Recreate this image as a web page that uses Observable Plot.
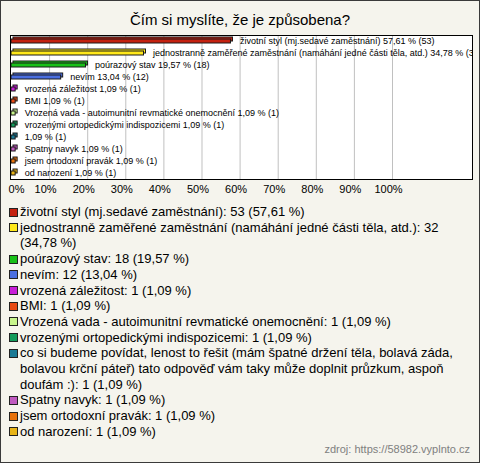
<!DOCTYPE html>
<html>
<head>
<meta charset="utf-8">
<script src="https://cdn.jsdelivr.net/npm/d3@7"></script>
<script src="https://cdn.jsdelivr.net/npm/@observablehq/plot@0.6"></script>
<style>
  html, body { margin: 0; padding: 0; background: #f5f4ed; }
  #wrap { position: relative; width: 480px; height: 463px; background: #f5f4ed; overflow: hidden;
          font-family: "Liberation Sans", Arial, sans-serif; color: #000; }
  #border { position: absolute; left: 0; top: 0; width: 480px; height: 463px; box-sizing: border-box;
            border: 1px solid #3a3a3a; pointer-events: none; }
  #title { position: absolute; left: 0; width: 480px; top: 10px; text-align: center; font-size: 15px; line-height: 20px; }
  #chart { position: absolute; left: 0; top: 0; }
  #legend { position: absolute; left: 9px; top: 204px; width: 462px; font-size: 13px; line-height: 15.7px; }
  .item { position: relative; padding-left: 11px; }
  .sw { position: absolute; left: 0; top: 3.5px; width: 7px; height: 7px; border: 1px solid #222; }
  #source { position: absolute; right: 10px; top: 443px; font-size: 11px; color: #808080; }
</style>
</head>
<body>
<div id="wrap">
  <div id="title">Čím si myslíte, že je způsobena?</div>
  <div id="chart"></div>
  <div id="legend"></div>
  <div id="source">zdroj: https://58982.vyplnto.cz</div>
  <div id="border"></div>
</div>
<script>
const categories = [
  "životní styl (mj.sedavé zaměstnání)",
  "jednostranně zaměřené zaměstnání (namáhání jedné části těla, atd.)",
  "poúrazový stav",
  "nevím",
  "vrozená záležitost",
  "BMI",
  "Vrozená vada - autoimunitní revmatické onemocnění",
  "vrozenými ortopedickými indispozicemi",
  "co si budeme povídat, lenost to řešit (mám špatné držení těla, bolavá záda, bolavou krční páteř) tato odpověď vám taky může doplnit průzkum, aspoň doufám :)",
  "Spatny navyk",
  "jsem ortodoxní pravák",
  "od narození"
];
const barLabels = [
  "životní styl (mj.sedavé zaměstnání)",
  "jednostranně zaměřené zaměstnání (namáhání jedné části těla, atd.)",
  "poúrazový stav",
  "nevím",
  "vrozená záležitost",
  "BMI",
  "Vrozená vada - autoimunitní revmatické onemocnění",
  "vrozenými ortopedickými indispozicemi",
  "",
  "Spatny navyk",
  "jsem ortodoxní pravák",
  "od narození"
];
const counts = [53, 32, 18, 12, 1, 1, 1, 1, 1, 1, 1, 1];
const percents = [57.61, 34.78, 19.57, 13.04, 1.09, 1.09, 1.09, 1.09, 1.09, 1.09, 1.09, 1.09];
const colors = ["#c4210f", "#ffe81a", "#18c018", "#4a6ee0", "#c81ed8", "#e84a14",
                "#c8f58c", "#139b5b", "#1b7a95", "#c05ac0", "#e8720c", "#e8b418"];
const tickValues = [0, 10, 20, 30, 40, 50, 60, 70, 80, 90, 100];

const fmt = v => v.toFixed(2).replace(".", ",");
const rows = categories.map((c, i) => ({
  key: String(i), name: c, label: barLabels[i], count: counts[i], pct: percents[i], color: colors[i]
}));

const chart = Plot.plot({
  width: 480,
  height: 200,
  marginTop: 35,
  marginBottom: 21,
  marginLeft: 10,
  marginRight: 8,
  style: { fontFamily: "'Liberation Sans', Arial, sans-serif", background: "transparent", overflow: "visible" },
  x: { domain: [-0.26, 121.0], axis: null },
  y: { domain: rows.map(d => d.key), type: "band", padding: 0, axis: null },
  color: { type: "identity" },
  marks: [
    Plot.frame({ fill: "white", stroke: "none" }),
    Plot.ruleX(tickValues.slice(1), { stroke: "#c0c0c0", strokeWidth: 1 }),
    Plot.rectX(rows, { x1: 0, x2: "pct", y: "key", fill: "color", stroke: "#1a1a1a", strokeWidth: 1,
                       insetTop: 4, insetBottom: 4, dx: 2, dy: -2 }),
    Plot.rectX(rows, { x1: 0, x2: "pct", y: "key", fill: "color", stroke: "#1a1a1a", strokeWidth: 1,
                       insetTop: 4, insetBottom: 4 }),
    Plot.text(rows, { x: "pct", y: "key",
                      text: d => (d.label ? d.label + " " : "") + fmt(d.pct) + " % (" + d.count + ")",
                      dx: 9, textAnchor: "start", fontSize: 9, fill: "#000", clip: true }),
    Plot.frame({ stroke: "#000", strokeWidth: 1 }),
    Plot.text(tickValues.slice(0, 1), { x: d => d, text: d => d + "%", frameAnchor: "bottom",
                      lineAnchor: "middle", dy: 10, dx: 5, fontSize: 11, fill: "#000" }),
    Plot.text(tickValues.slice(1), { x: d => d, text: d => d + "%", frameAnchor: "bottom",
                      lineAnchor: "middle", dy: 10, dx: -4, fontSize: 11, fill: "#000" })
  ]
});
document.getElementById("chart").appendChild(chart);

const legend = document.getElementById("legend");
rows.forEach(d => {
  const item = document.createElement("div");
  item.className = "item";
  const sw = document.createElement("span");
  sw.className = "sw";
  sw.style.background = d.color;
  item.appendChild(sw);
  item.appendChild(document.createTextNode(d.name + ": " + d.count + " (" + fmt(d.pct) + " %)"));
  legend.appendChild(item);
});
</script>
</body>
</html>
